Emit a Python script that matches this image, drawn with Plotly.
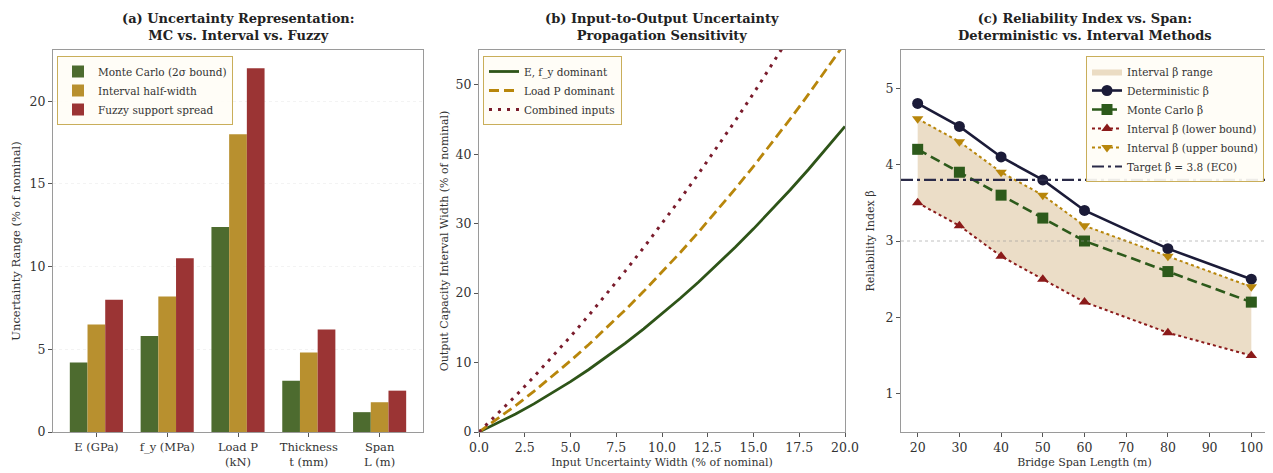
import plotly.graph_objects as go

# ---------------- Data ----------------
# Panel (a)
categories = ["E (GPa)", "f_y (MPa)", "Load P<br>(kN)", "Thickness<br>t (mm)", "Span<br>L (m)"]
mc_bound = [4.2, 5.8, 12.4, 3.1, 1.2]
interval_half = [6.5, 8.2, 18.0, 4.8, 1.8]
fuzzy_spread = [8.0, 10.5, 22.0, 6.2, 2.5]

# Panel (b)
input_width = [0, 1, 2, 3, 4, 5, 6, 7, 8, 9, 10, 11, 12, 13, 14, 15, 16, 17, 18, 19, 20]
out_e_fy = [0, 1.25, 2.6, 4.05, 5.6, 7.25, 9.0, 10.85, 12.8, 14.85, 17.0, 19.25, 21.6,
            24.05, 26.6, 29.25, 32.0, 34.85, 37.8, 40.85, 44.0]
out_load = [0, 1.85, 3.8, 5.85, 8.0, 10.25, 12.6, 15.05, 17.6, 20.25, 23.0, 25.85, 28.8,
            31.85, 35.0, 38.25, 41.6, 45.05, 48.6, 52.25, 56.0]
out_combined = [0, 2.55, 5.2, 7.95, 10.8, 13.75, 16.8, 19.95, 23.2, 26.55, 30.0, 33.55, 37.2,
                40.95, 44.8, 48.75, 52.8, 56.95, 61.2, 65.55, 70.0]

# Panel (c)
spans = [20, 30, 40, 50, 60, 80, 100]
beta_det = [4.8, 4.5, 4.1, 3.8, 3.4, 2.9, 2.5]
beta_mc = [4.2, 3.9, 3.6, 3.3, 3.0, 2.6, 2.2]
beta_low = [3.5, 3.2, 2.8, 2.5, 2.2, 1.8, 1.5]
beta_up = [4.6, 4.3, 3.9, 3.6, 3.2, 2.8, 2.4]
beta_target = 3.8
beta_ref = 3.0

# ---------------- Styling ----------------
PAGE_W, PAGE_H = 1273, 473
BODY = 8  # default page body margin
W, H = PAGE_W - BODY, PAGE_H - BODY
FONT = "DejaVu Serif"
C_MC, C_INT, C_FZ = "#4D6B2F", "#B8902F", "#9B3434"

def px(x):
    return min(1.0, max(0.0, (x - BODY) / W))

def py(y):
    return min(1.0, max(0.0, (H - (y - BODY)) / H))

YDOM = [py(432), py(50)]

fig = go.Figure()

# Panel (a) bars
for name, vals, col in [("Monte Carlo (2σ bound)", mc_bound, C_MC),
                        ("Interval half-width", interval_half, C_INT),
                        ("Fuzzy support spread", fuzzy_spread, C_FZ)]:
    fig.add_trace(go.Bar(x=categories, y=vals, name=name, marker_color=col,
                         marker_line_width=0, xaxis="x", yaxis="y", legend="legend"))

# Panel (b) lines
fig.add_trace(go.Scatter(x=input_width, y=out_e_fy, mode="lines", name="E, f_y dominant",
                         line=dict(color="#2E5418", width=2.8), xaxis="x2", yaxis="y2", legend="legend2"))
fig.add_trace(go.Scatter(x=input_width, y=out_load, mode="lines", name="Load P dominant",
                         line=dict(color="#B8860B", width=2.8, dash="10px,5px"), xaxis="x2", yaxis="y2",
                         legend="legend2"))
fig.add_trace(go.Scatter(x=input_width, y=out_combined, mode="lines", name="Combined inputs",
                         line=dict(color="#7A1C2C", width=3, dash="3px,6px"), xaxis="x2", yaxis="y2",
                         legend="legend2"))

# Panel (c)
fig.add_trace(go.Scatter(x=spans, y=beta_low, mode="lines", line=dict(width=0, color="rgba(0,0,0,0)"),
                         showlegend=False, hoverinfo="skip", xaxis="x3", yaxis="y3", legend="legend3"))
fig.add_trace(go.Scatter(x=spans, y=beta_up, mode="lines", fill="tonexty",
                         fillcolor="rgba(210,180,130,0.45)", line=dict(width=0, color="rgba(0,0,0,0)"),
                         name="Interval β range", xaxis="x3", yaxis="y3", legend="legend3"))
fig.add_trace(go.Scatter(x=spans, y=beta_det, mode="lines+markers", name="Deterministic β",
                         line=dict(color="#1B1B38", width=2.6),
                         marker=dict(symbol="circle", size=11, color="#1B1B38"),
                         xaxis="x3", yaxis="y3", legend="legend3"))
fig.add_trace(go.Scatter(x=spans, y=beta_mc, mode="lines+markers", name="Monte Carlo β",
                         line=dict(color="#2D5A1B", width=2.6, dash="10px,5px"),
                         marker=dict(symbol="square", size=11, color="#2D5A1B"),
                         xaxis="x3", yaxis="y3", legend="legend3"))
fig.add_trace(go.Scatter(x=spans, y=beta_low, mode="lines+markers", name="Interval β (lower bound)",
                         line=dict(color="#8B1A1A", width=2, dash="dot"),
                         marker=dict(symbol="triangle-up", size=10, color="#8B1A1A"),
                         xaxis="x3", yaxis="y3", legend="legend3"))
fig.add_trace(go.Scatter(x=spans, y=beta_up, mode="lines+markers", name="Interval β (upper bound)",
                         line=dict(color="#B8860B", width=2, dash="dot"),
                         marker=dict(symbol="triangle-down", size=10, color="#B8860B"),
                         xaxis="x3", yaxis="y3", legend="legend3"))
fig.add_trace(go.Scatter(x=[None], y=[None], mode="lines", name="Target β = 3.8 (EC0)",
                         line=dict(color="#2A2A48", width=2.2, dash="12px,4px,3px,4px"),
                         xaxis="x3", yaxis="y3", legend="legend3"))

fig.add_shape(type="line", xref="x3 domain", x0=0, x1=1, yref="y3", y0=beta_ref, y1=beta_ref,
              line=dict(color="rgba(150,150,150,0.6)", width=1, dash="dot"), layer="above")
fig.add_shape(type="line", xref="x3 domain", x0=0, x1=1, yref="y3", y0=beta_target, y1=beta_target,
              line=dict(color="#2A2A48", width=2.2, dash="12px,4px,3px,4px"), layer="above")

axis_common = dict(showline=True, linecolor="#9A9A9A", linewidth=1, mirror=True,
                   ticks="outside", ticklen=4, tickcolor="#555", zeroline=False, automargin=False,
                   tickfont=dict(family=FONT, size=12.5, color="#333"),
                   gridcolor="rgba(220,220,220,0.35)", griddash="dot")

leg_common = dict(bgcolor="rgba(255,253,246,0.92)", bordercolor="#C9AE5A", borderwidth=1,
                  font=dict(family=FONT, size=10.5, color="#333"), tracegroupgap=0,
                  traceorder="normal", yanchor="top", y=py(56))

fig.update_layout(
    width=W, height=H, margin=dict(l=0, r=0, t=0, b=0, autoexpand=False),
    paper_bgcolor="white", plot_bgcolor="white",
    font=dict(family=FONT, color="#333"),
    barmode="group", bargap=0.25, bargroupgap=0,
    xaxis=dict(axis_common, domain=[px(53), px(423)], anchor="y", range=[-0.6125, 4.6125],
               showgrid=False, tickfont=dict(family=FONT, size=11.5, color="#333")),
    yaxis=dict(axis_common, domain=YDOM, anchor="x", range=[0, 23.1], tickvals=[0, 5, 10, 15, 20],
               showgrid=True,
               title=dict(text="Uncertainty Range (% of nominal)", font=dict(family=FONT, size=11.5),
                          standoff=6)),
    xaxis2=dict(axis_common, domain=[px(479), px(845)], anchor="y2", range=[0, 20],
                tickvals=[0, 2.5, 5, 7.5, 10, 12.5, 15, 17.5, 20],
                ticktext=["0.0", "2.5", "5.0", "7.5", "10.0", "12.5", "15.0", "17.5", "20.0"],
                showgrid=False,
                title=dict(text="Input Uncertainty Width (% of nominal)", font=dict(family=FONT, size=11),
                           standoff=4)),
    yaxis2=dict(axis_common, domain=YDOM, anchor="x2", range=[0, 55], tickvals=[0, 10, 20, 30, 40, 50],
                showgrid=False,
                title=dict(text="Output Capacity Interval Width (% of nominal)", font=dict(family=FONT, size=11),
                           standoff=4)),
    xaxis3=dict(axis_common, domain=[px(901), px(1268)], anchor="y3", range=[16, 104],
                tickvals=[20, 30, 40, 50, 60, 70, 80, 90, 100], showgrid=False,
                title=dict(text="Bridge Span Length (m)", font=dict(family=FONT, size=11), standoff=4)),
    yaxis3=dict(axis_common, domain=YDOM, anchor="x3", range=[0.5, 5.5], tickvals=[1, 2, 3, 4, 5],
                showgrid=False,
                title=dict(text="Reliability Index β", font=dict(family=FONT, size=11), standoff=8)),
    legend=dict(leg_common, x=px(57), xanchor="left"),
    legend2=dict(leg_common, x=px(483), xanchor="left"),
    legend3=dict(leg_common, x=px(1264), xanchor="right"),
)

titles = [
    ("<b>(a) Uncertainty Representation:<br>MC vs. Interval vs. Fuzzy</b>", (53 + 423) / 2),
    ("<b>(b) Input-to-Output Uncertainty<br>Propagation Sensitivity</b>", (479 + 845) / 2),
    ("<b>(c) Reliability Index vs. Span:<br>Deterministic vs. Interval Methods</b>", (901 + 1268) / 2),
]
for txt, cx in titles:
    fig.add_annotation(text=txt, x=px(cx), y=py(45), xref="paper", yref="paper",
                       xanchor="center", yanchor="bottom", showarrow=False,
                       font=dict(family=FONT, size=13, color="#222"))

fig.write_html("out.html")
